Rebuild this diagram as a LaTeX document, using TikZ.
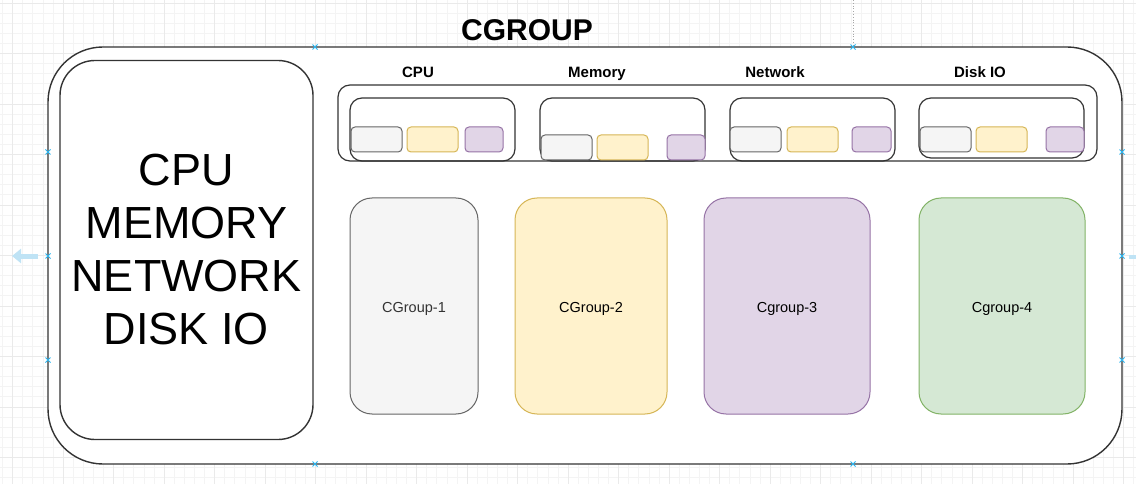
\documentclass[tikz,border=0pt]{standalone}
\usepackage{fontspec}
\setmainfont{Liberation Sans}
\usetikzlibrary{arrows.meta,calc}
\definecolor{edge}{HTML}{333333}
\definecolor{greyfill}{HTML}{F5F5F5}
\definecolor{greyline}{HTML}{666666}
\definecolor{yelfill}{HTML}{FFF2CC}
\definecolor{yelline}{HTML}{D6B656}
\definecolor{purfill}{HTML}{E1D5E7}
\definecolor{purline}{HTML}{9673A6}
\definecolor{grnfill}{HTML}{D5E8D4}
\definecolor{grnline}{HTML}{82B366}
\definecolor{gridminor}{HTML}{F4F4F4}
\definecolor{gridmajor}{HTML}{EAEAEA}
\definecolor{handle}{HTML}{29B6F2}
\definecolor{hint}{HTML}{BFE3F5}
\tikzset{
  shell/.style={rectangle, draw=edge, line width=1.4pt, fill=white, inner sep=0pt},
  sub/.style={rectangle, draw=edge, line width=1.2pt, rounded corners=12pt, inner sep=0pt},
  chip/.style={rectangle, line width=1pt, rounded corners=4pt, inner sep=0pt, minimum height=25pt},
  greychip/.style={chip, fill=greyfill, draw=greyline},
  yelchip/.style={chip, fill=yelfill, draw=yelline},
  purchip/.style={chip, fill=purfill, draw=purline},
  group/.style={rectangle, line width=1pt, rounded corners=22pt, inner sep=0pt},
  grouplabel/.style={anchor=base, font=\fontsize{14.5}{17}\selectfont},
  reslabel/.style={anchor=base, font=\bfseries\fontsize{15}{18}\selectfont}
}
\newcommand{\hmark}[1]{\draw[handle, line width=0.8pt] ($(#1)+(-2.5,-2.5)$) -- ($(#1)+(2.5,2.5)$) ($(#1)+(-2.5,2.5)$) -- ($(#1)+(2.5,-2.5)$);}
\begin{document}
\begin{tikzpicture}[x=1pt,y=-1pt]
\useasboundingbox (0,0) rectangle (1136,484);
\fill[white] (0,0) rectangle (1136,484);
% grid
\foreach \i in {0,...,113} {
  \draw[gridminor, line width=0.5pt] ({2.4+\i*10.1},0) -- ({2.4+\i*10.1},484);
}
\foreach \i in {0,...,48} {
  \draw[gridminor, line width=0.5pt] (0,{2.8+\i*10.1}) -- (1136,{2.8+\i*10.1});
}
\foreach \i in {0,...,22} {
  \draw[gridmajor, line width=0.6pt] ({12.5+\i*50.5},0) -- ({12.5+\i*50.5},484);
}
\foreach \i in {0,...,9} {
  \draw[gridmajor, line width=0.6pt] (0,{3+\i*50.5}) -- (1136,{3+\i*50.5});
}
% editor hints
\draw[gray!70, line width=0.8pt, dotted] (853,0) -- (853,47);
\draw[hint, line width=5pt, -{Triangle[length=9pt,width=14pt]}] (38,256) -- (12,256);
\fill[hint] (1129,255) rectangle (1136,258.5);

% outer container
\node[shell, rounded corners=55pt, minimum width=1074pt, minimum height=417pt] (outer) at (585,255.5) {};
\node[font=\bfseries\fontsize{30}{34}\selectfont] (title) at (527,30) {CGROUP};

% left resource box
\node[shell, rounded corners=35pt, minimum width=253pt, minimum height=379pt,
      align=center, font=\fontsize{45}{53}\selectfont] (res) at (186.5,250)
      {CPU\\MEMORY\\NETWORK\\DISK IO};

% resource bar
\node[sub, minimum width=759pt, minimum height=76pt] (bar) at (717.5,123) {};
\node[sub, minimum width=165pt, minimum height=63pt] (cpu) at (432.5,129.5) {};
\node[sub, minimum width=165pt, minimum height=63pt] (mem) at (622.5,129.5) {};
\node[sub, minimum width=165pt, minimum height=63pt] (net) at (812.5,129.5) {};
\node[sub, minimum width=165pt, minimum height=60pt] (disk) at (1001.5,128) {};

\node[reslabel] (lcpu) at (418,77.5) {CPU};
\node[reslabel] (lmem) at (597,77.5) {Memory};
\node[reslabel] (lnet) at (775,77.5) {Network};
\node[reslabel] (ldisk) at (980,77.5) {Disk IO};

% chips
\node[greychip, minimum width=51pt] (cpu1) at (376.5,139.5) {};
\node[yelchip,  minimum width=51pt] (cpu2) at (432.5,139.5) {};
\node[purchip,  minimum width=38pt] (cpu3) at (484,139.5) {};

\node[greychip, minimum width=51pt] (mem1) at (566.5,147.5) {};
\node[yelchip,  minimum width=51pt] (mem2) at (622.5,147.5) {};
\node[purchip,  minimum width=38pt] (mem3) at (686,147.5) {};

\node[greychip, minimum width=51pt] (net1) at (755.5,139.5) {};
\node[yelchip,  minimum width=51pt] (net2) at (812.5,139.5) {};
\node[purchip,  minimum width=39pt] (net3) at (871.5,139.5) {};

\node[greychip, minimum width=51pt] (disk1) at (945.5,139.5) {};
\node[yelchip,  minimum width=51pt] (disk2) at (1001.5,139.5) {};
\node[purchip,  minimum width=38pt] (disk3) at (1065,139.5) {};

% cgroups
\node[group, fill=greyfill, draw=greyline, minimum width=128pt, minimum height=216pt] (cg1) at (414,306) {};
\node[group, fill=yelfill, draw=yelline, minimum width=152pt, minimum height=216pt] (cg2) at (591,306) {};
\node[group, fill=purfill, draw=purline, minimum width=166pt, minimum height=216pt] (cg3) at (787,306) {};
\node[group, fill=grnfill, draw=grnline, minimum width=166pt, minimum height=216pt] (cg4) at (1002,306) {};
\node[grouplabel, text=edge] (t1) at (414,312) {CGroup-1};
\node[grouplabel] (t2) at (591,312) {CGroup-2};
\node[grouplabel] (t3) at (787,312) {Cgroup-3};
\node[grouplabel] (t4) at (1002,312) {Cgroup-4};

% selection handles
\coordinate (h1) at (315,47);  \hmark{h1}
\coordinate (h2) at (853,47);  \hmark{h2}
\coordinate (h3) at (315,464); \hmark{h3}
\coordinate (h4) at (853,464); \hmark{h4}
\coordinate (h5) at (48,152);  \hmark{h5}
\coordinate (h6) at (48,256);  \hmark{h6}
\coordinate (h7) at (48,360);  \hmark{h7}
\coordinate (h8) at (1122,152); \hmark{h8}
\coordinate (h9) at (1122,256); \hmark{h9}
\coordinate (h10) at (1122,360); \hmark{h10}
\end{tikzpicture}
\end{document}
